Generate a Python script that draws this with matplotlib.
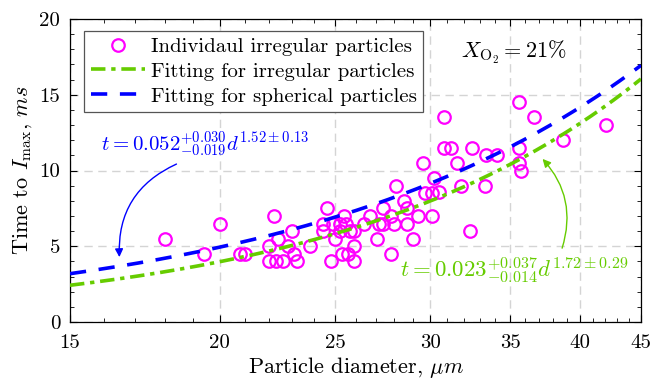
import matplotlib
matplotlib.use("Agg")
import matplotlib.pyplot as plt
import numpy as np
from matplotlib.ticker import FixedLocator, FixedFormatter, NullFormatter

plt.rcParams["font.family"] = "serif"
plt.rcParams["font.serif"] = ["cmr10", "DejaVu Serif"]
plt.rcParams["mathtext.fontset"] = "cm"
plt.rcParams["axes.unicode_minus"] = False

# individual irregular particles (diameter in um, time in ms)
diameter = [18.0, 19.4, 20.0, 20.8, 21.0, 22.2, 22.0, 22.4, 23.0, 22.8,
            23.1, 22.0, 22.3, 22.6, 23.2, 23.8, 24.6, 24.4, 24.4, 24.9,
            25.2, 25.5, 25.7, 25.0, 25.2, 25.9, 25.4, 24.8, 25.3, 25.6,
            25.9, 25.9, 26.4, 26.7, 27.1, 27.4, 27.8, 28.1, 27.2, 27.4,
            27.8, 28.0, 28.5, 28.7, 28.7, 29.0, 29.3, 30.1, 29.7, 30.1,
            30.5, 29.6, 30.2, 30.8, 30.8, 31.2, 31.6, 31.8, 32.5, 32.4,
            33.3, 33.4, 34.1, 35.6, 36.6, 35.6, 35.6, 35.7, 38.7, 42.1]
time_ms = [5.5, 4.5, 6.5, 4.5, 4.5, 7.0, 5.0, 5.5, 6.0, 5.0,
           4.5, 4.0, 4.0, 4.0, 4.0, 5.0, 7.5, 6.5, 6.0, 6.5,
           6.5, 6.5, 6.0, 5.5, 6.0, 6.0, 7.0, 4.0, 4.5, 4.5,
           4.0, 5.0, 6.5, 7.0, 5.5, 7.5, 4.5, 9.0, 6.5, 6.5,
           7.0, 6.5, 8.0, 7.5, 6.5, 5.5, 7.0, 7.0, 8.5, 8.5,
           8.6, 10.5, 9.5, 13.5, 11.5, 11.5, 10.5, 9.0, 11.5, 6.0,
           9.0, 11.0, 11.0, 14.5, 13.5, 11.5, 10.5, 10.0, 12.0, 13.0]

# power-law fits t = a * d^b
fit_irregular = (0.023, 1.72)
fit_spherical = (0.052, 1.52)

x_ticks = [15, 20, 25, 30, 35, 40, 45]
y_ticks = [0, 5, 10, 15, 20]

green = "#66cc00"
blue = "#0000ff"
magenta = "#ff00ff"

fig = plt.figure(figsize=(6.54, 3.80), dpi=100)
ax = fig.add_axes([70 / 654, 58 / 380, 571 / 654, 303 / 380])

d = np.linspace(15, 45, 300)
ax.plot(diameter, time_ms, "o", mfc="none", mec=magenta, ms=9, mew=1.6,
        label="Individaul irregular particles", zorder=3)
ax.plot(d, fit_irregular[0] * d ** fit_irregular[1], color=green, lw=2.6,
        dashes=(4, 1.6, 1.2, 1.6), label="Fitting for irregular particles", zorder=4)
ax.plot(d, fit_spherical[0] * d ** fit_spherical[1], color=blue, lw=2.6,
        dashes=(4.5, 3.5), label="Fitting for spherical particles", zorder=4)

ax.set_xscale("log")
ax.set_xlim(15, 45)
ax.set_ylim(0, 20)
ax.xaxis.set_major_locator(FixedLocator(x_ticks))
ax.xaxis.set_major_formatter(FixedFormatter([str(v) for v in x_ticks]))
ax.xaxis.set_minor_locator(FixedLocator([v for v in range(16, 45) if v not in x_ticks]))
ax.xaxis.set_minor_formatter(NullFormatter())
ax.yaxis.set_major_locator(FixedLocator(y_ticks))
ax.yaxis.set_minor_locator(FixedLocator([v for v in range(0, 21) if v not in y_ticks]))

ax.tick_params(which="both", direction="in", top=True, right=True, labelsize=15)
ax.tick_params(which="major", length=5, width=0.8)
ax.tick_params(axis="x", which="major", pad=9)
ax.tick_params(axis="y", which="major", pad=7)
ax.tick_params(which="minor", length=3, width=0.6)
ax.grid(True, which="major", color="#d4d4d4", linestyle=(0, (6, 4)), linewidth=1.0)
for sp in ax.spines.values():
    sp.set_linewidth(0.9)

ax.set_xlabel(r"Particle diameter, $\mu m$", fontsize=16, labelpad=2)
ax.set_ylabel(r"Time to $I_{\max}$, $ms$", fontsize=16, labelpad=4)

leg = ax.legend(loc="upper left", bbox_to_anchor=(0.025, 0.96), fontsize=15,
                frameon=True, fancybox=False, edgecolor="#555555", framealpha=1,
                handlelength=2.6, handletextpad=0.3, labelspacing=0.3,
                borderpad=0.3, borderaxespad=0)
leg.get_frame().set_linewidth(0.9)

ax.text(35.2, 17.8, r"$X_{\mathrm{O_2}} = 21\%$", fontsize=16, ha="center", va="center")

ax.text(19.45, 11.7, r"$t = 0.052^{+0.030}_{-0.019}d^{1.52\pm0.13}$", color=blue,
        fontsize=15, ha="center", va="center")
ax.annotate("", xy=(16.5, 4.1), xytext=(18.5, 10.5),
            arrowprops=dict(arrowstyle="-|>", color=blue, lw=1.0,
                            connectionstyle="arc3,rad=0.35", mutation_scale=12))

ax.text(35.3, 3.4, r"$t = 0.023^{+0.037}_{-0.014}d^{1.72\pm0.29}$", color=green,
        fontsize=16.5, ha="center", va="center")
ax.annotate("", xy=(37.1, 10.9), xytext=(38.6, 4.7),
            arrowprops=dict(arrowstyle="-|>", color=green, lw=1.0,
                            connectionstyle="arc3,rad=0.3", mutation_scale=12))

fig.savefig("out.png", dpi=100)
